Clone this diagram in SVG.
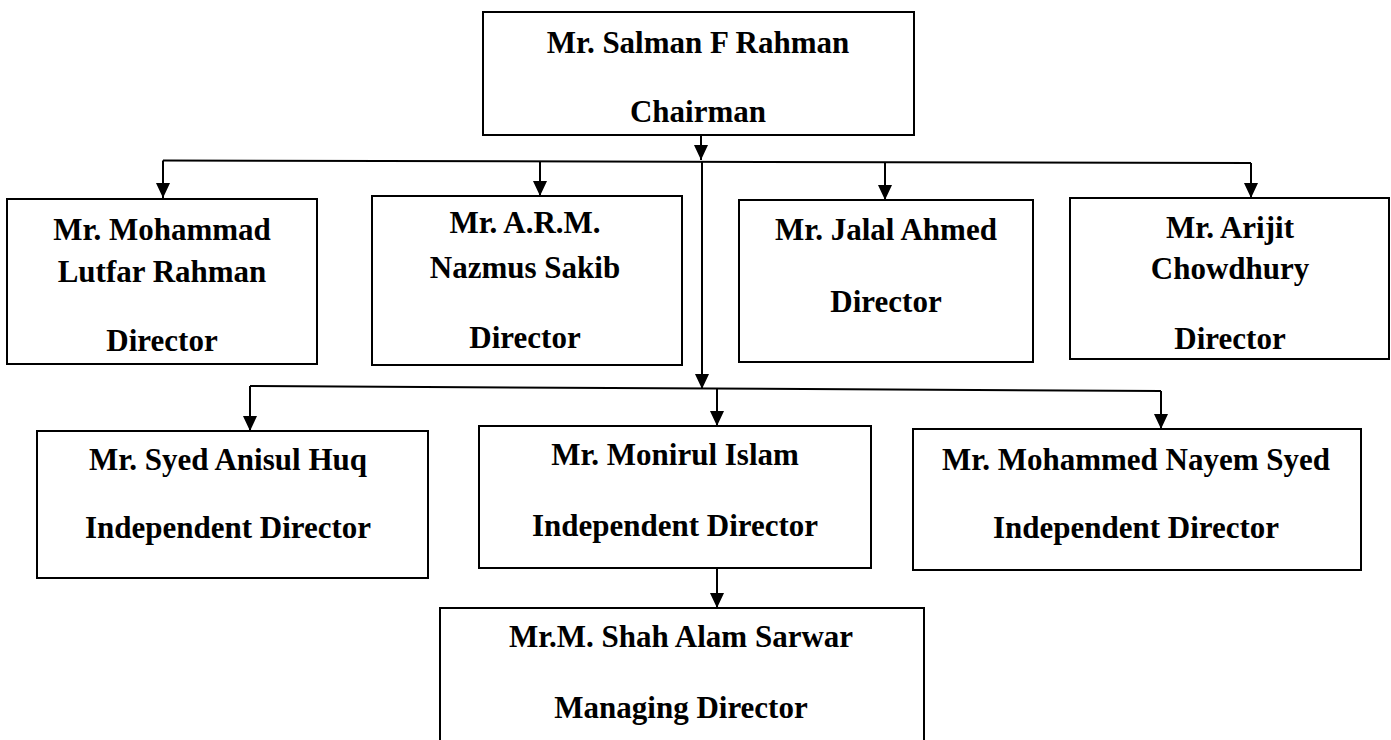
<svg xmlns="http://www.w3.org/2000/svg" width="1391" height="740" viewBox="0 0 1391 740">
<style>
.box{fill:#fff;stroke:#000;stroke-width:2}
.t{font-family:"Liberation Serif","Times New Roman",serif;font-weight:bold;font-size:31px;fill:#000;text-anchor:middle}
.c{stroke:#000;stroke-width:2;fill:none}
.a{stroke:#000;stroke-width:2;fill:none;marker-end:url(#ah)}
</style>
<defs>
<marker id="ah" markerUnits="userSpaceOnUse" markerWidth="15" markerHeight="14" refX="15" refY="7" orient="auto" viewBox="0 0 15 14">
<path d="M0,0 L15,7 L0,14 Z" fill="#000"/>
</marker>
</defs>
<rect width="1391" height="740" fill="#fff"/>
<g id="connectors">
<line class="c" x1="163" y1="160.5" x2="1251" y2="163"/>
<line class="c" x1="250" y1="386" x2="1161" y2="391"/>
<line class="c" x1="702" y1="161" x2="702" y2="380"/>
<line class="a" x1="701" y1="135" x2="701" y2="160"/>
<line class="a" x1="163" y1="160.5" x2="163" y2="198"/>
<line class="a" x1="540" y1="161" x2="540" y2="196"/>
<line class="a" x1="885" y1="162" x2="885" y2="200"/>
<line class="a" x1="1251" y1="163" x2="1251" y2="198"/>
<line class="a" x1="702" y1="370" x2="702" y2="389"/>
<line class="a" x1="250" y1="386" x2="250" y2="431"/>
<line class="a" x1="717" y1="388.5" x2="717" y2="426"/>
<line class="a" x1="1161" y1="391" x2="1161" y2="429"/>
<line class="a" x1="717" y1="568" x2="717" y2="608"/>
</g>
<g id="chairman">
<rect class="box" x="483" y="12" width="431" height="123"/>
<text class="t" x="698" y="53">Mr. Salman F Rahman</text>
<text class="t" x="698" y="122">Chairman</text>
</g>
<g id="lutfar">
<rect class="box" x="7" y="199" width="310" height="165"/>
<text class="t" x="162" y="240">Mr. Mohammad</text>
<text class="t" x="162" y="282">Lutfar Rahman</text>
<text class="t" x="162" y="351">Director</text>
</g>
<g id="nazmus">
<rect class="box" x="372" y="196" width="310" height="169"/>
<text class="t" x="525" y="233">Mr. A.R.M.</text>
<text class="t" x="525" y="278">Nazmus Sakib</text>
<text class="t" x="525" y="348">Director</text>
</g>
<g id="jalal">
<rect class="box" x="739" y="200" width="294" height="162"/>
<text class="t" x="886" y="240">Mr. Jalal Ahmed</text>
<text class="t" x="886" y="312">Director</text>
</g>
<g id="arijit">
<rect class="box" x="1070" y="198" width="319" height="161"/>
<text class="t" x="1230" y="238">Mr. Arijit</text>
<text class="t" x="1230" y="279">Chowdhury</text>
<text class="t" x="1230" y="349">Director</text>
</g>
<g id="anisul">
<rect class="box" x="37" y="431" width="391" height="147"/>
<text class="t" x="228" y="470">Mr. Syed Anisul Huq</text>
<text class="t" x="228" y="538">Independent Director</text>
</g>
<g id="monirul">
<rect class="box" x="479" y="426" width="392" height="142"/>
<text class="t" x="675" y="465">Mr. Monirul Islam</text>
<text class="t" x="675" y="536">Independent Director</text>
</g>
<g id="nayem">
<rect class="box" x="913" y="429" width="448" height="141"/>
<text class="t" x="1136" y="470">Mr. Mohammed Nayem Syed</text>
<text class="t" x="1136" y="538">Independent Director</text>
</g>
<g id="md">
<rect class="box" x="440" y="608" width="484" height="140"/>
<text class="t" x="681" y="647">Mr.M. Shah Alam Sarwar</text>
<text class="t" x="681" y="718">Managing Director</text>
</g>
</svg>
